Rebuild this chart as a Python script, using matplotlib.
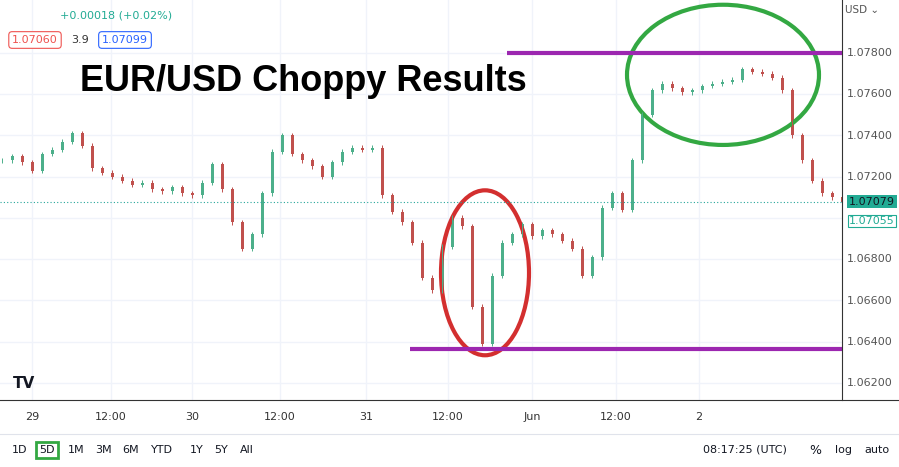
import matplotlib.pyplot as plt
from matplotlib.patches import Ellipse, Rectangle

W, H = 899, 467

# closing prices, one candle per ~1.4h
closes = [1.0728, 1.0730, 1.0727, 1.0723, 1.0731, 1.0733, 1.0737, 1.0741, 1.0735, 1.0724,
          1.0722, 1.0720, 1.0718, 1.0716, 1.0717, 1.0714, 1.0713, 1.0715, 1.0712, 1.0711,
          1.0717, 1.0726, 1.0714, 1.0698, 1.0685, 1.0692, 1.0712, 1.0732, 1.0740, 1.0731,
          1.0728, 1.0725, 1.0720, 1.0727, 1.0732, 1.0734, 1.0733, 1.0734, 1.0711, 1.0703,
          1.0698, 1.0688, 1.0671, 1.0665, 1.0686, 1.0700, 1.0696, 1.0657, 1.0639, 1.0672,
          1.0688, 1.0692, 1.0697, 1.0691, 1.0694, 1.0692, 1.0689, 1.0685, 1.0672, 1.0681,
          1.0705, 1.0712, 1.0704, 1.0728, 1.0750, 1.0762, 1.0765, 1.0763, 1.0761, 1.0762,
          1.0764, 1.0765, 1.0766, 1.0767, 1.0772, 1.0771, 1.0770, 1.0768, 1.0762, 1.0740,
          1.0728, 1.0718, 1.0712, 1.0710, 1.07079]
time_ticks = [3.0, 10.9, 19.0, 27.8, 36.4, 44.6, 53.0, 61.4, 69.7]
time_labels = ["29", "12:00", "30", "12:00", "31", "12:00", "Jun", "12:00", "2"]
price_ticks = [1.062, 1.064, 1.066, 1.068, 1.070, 1.072, 1.074, 1.076, 1.078]
resistance, support = 1.0780, 1.06365
last_price, bid_price = 1.07079, 1.07055

GREEN = "#26a69a"

fig = plt.figure(figsize=(W / 100, H / 100), dpi=100)
ax = fig.add_axes([0, 1 - 400 / H, 842 / W, 400 / H])
ax.set_xlim(-0.2, 84.0)
ax.set_ylim(1.06117, 1.08057)

opens = [closes[0]] + closes[:-1]
for i, (o, c) in enumerate(zip(opens, closes)):
    col = "#4caf8a" if c >= o else "#c0504d"
    hi, lo = max(o, c) + 0.00012, min(o, c) - 0.00012
    ax.vlines(i, lo, hi, color=col, lw=0.7)
    ax.add_patch(Rectangle((i - 0.15, min(o, c)), 0.3, max(abs(c - o), 0.00003),
                           color=col, lw=0))

for t in time_ticks:
    ax.axvline(t, color="#f0f3fa", lw=1, zorder=0)
for p in price_ticks:
    ax.axhline(p, color="#f0f3fa", lw=1, zorder=0)
ax.axhline(last_price, color=GREEN, lw=0.8, ls=(0, (1, 2)))

ax.hlines(resistance, 50.5, 84, color="#9c27b0", lw=3)
ax.hlines(support, 40.8, 84, color="#9c27b0", lw=3)
ax.add_patch(Ellipse((48.3, 1.06734), 8.8, 0.0080, fill=False, ec="#d32f2f", lw=3))
ax.add_patch(Ellipse((72.1, 1.07694), 19.2, 0.0068, fill=False, ec="#33a842", lw=3))

ax.set_xticks([])
ax.set_yticks([])
for s in ax.spines.values():
    s.set_visible(False)
ax.spines["right"].set_visible(True)
ax.spines["right"].set_color("#333333")

def px(x, y):
    return x / W, 1 - y / H

# title
fig.text(*px(80, 91), "EUR/USD Choppy Results", fontsize=26, fontweight="bold",
         family="Liberation Sans", va="baseline")

# price axis labels (the last-price tags cover the nearby tick)
ly = 53 + (1.078 - last_price) / 0.002 * 41.25
for p in price_ticks:
    y = 53 + (1.078 - p) / 0.002 * 41.25
    if y < 395 and not (ly - 12 < y < ly + 30):
        fig.text(*px(870, y), f"{p:.5f}", fontsize=8, color="#555555", ha="center", va="center")
fig.text(*px(862, 10), "USD ⌄", fontsize=7.5, color="#555555", ha="center", va="center")
fig.text(*px(872, ly), f"{last_price:.5f}", fontsize=8, color="#131722", ha="center", va="center",
         bbox=dict(boxstyle="square,pad=0.15", fc="#22ab94", ec="none"))
fig.text(*px(872, ly + 19), f"{bid_price:.5f}", fontsize=8, color="#22ab94", ha="center",
         va="center", bbox=dict(boxstyle="square,pad=0.1", fc="white", ec="#22ab94", lw=0.8))

# time axis
for t, lab in zip(time_ticks, time_labels):
    x = (t + 0.2) / 84.2 * 842
    fig.text(*px(x, 417), lab, fontsize=8, color="#333333", ha="center", va="center")
fig.add_artist(plt.Line2D([0, 1], [1 - 400 / H] * 2, color="#333333", lw=0.8))
fig.add_artist(plt.Line2D([0, 1], [1 - 434 / H] * 2, color="#e0e3eb", lw=0.8))

# header
fig.text(*px(60, 15), "+0.00018 (+0.02%)", fontsize=8, color="#22ab94", va="center")
fig.text(*px(35, 40), "1.07060", fontsize=8, color="#ef5350", ha="center", va="center",
         bbox=dict(boxstyle="round,pad=0.3", fc="white", ec="#ef5350", lw=0.8))
fig.text(*px(80, 40), "3.9", fontsize=8, color="#333333", ha="center", va="center")
fig.text(*px(125, 40), "1.07099", fontsize=8, color="#2962ff", ha="center", va="center",
         bbox=dict(boxstyle="round,pad=0.3", fc="white", ec="#2962ff", lw=0.8))
fig.text(*px(24, 383), "TV", fontsize=11, fontweight="bold", color="#131722", ha="center", va="center")

# bottom toolbar
for x, lab in zip([20, 47, 76, 103, 131, 162, 197, 221, 247],
                  ["1D", "5D", "1M", "3M", "6M", "YTD", "1Y", "5Y", "All"]):
    kw = {}
    if lab == "5D":
        kw["bbox"] = dict(boxstyle="square,pad=0.3", fc="white", ec="#33a842", lw=2)
    fig.text(*px(x, 450), lab, fontsize=8, color="#131722", ha="center", va="center", **kw)
fig.text(*px(745, 450), "08:17:25 (UTC)", fontsize=8, color="#131722", ha="center", va="center")
fig.text(*px(815, 450), "%", fontsize=9, color="#131722", ha="center", va="center")
fig.text(*px(843, 450), "log", fontsize=8, color="#131722", ha="center", va="center")
fig.text(*px(877, 450), "auto", fontsize=8, color="#131722", ha="center", va="center")

fig.savefig("out.png", dpi=100)
